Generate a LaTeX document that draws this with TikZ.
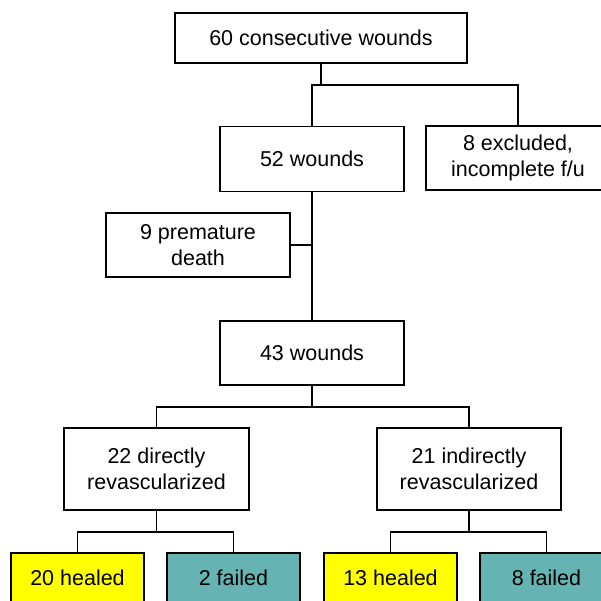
\documentclass[tikz,border=0pt]{standalone}
\usepackage{fontspec}
\setmainfont{Liberation Sans}
\definecolor{healedc}{HTML}{FFFF00}
\definecolor{failedc}{HTML}{66B3B3}
\begin{document}
\begin{tikzpicture}[x=1pt,y=-1pt,
  box/.style={draw, line width=1.1pt, rectangle, align=center, inner sep=0pt,
    font=\fontsize{21.5}{26}\selectfont},
  conn/.style={line width=1.1pt}]
\useasboundingbox (0,0) rectangle (601,601);
\node[box, minimum width=292, minimum height=50] (top) at (321,38) {60 consecutive wounds};
\node[box, minimum width=184, minimum height=65] (w52) at (312,159) {52 wounds};
\node[box, minimum width=184, minimum height=64] (excl) at (518,158) {8 excluded,\\incomplete f/u};
\node[box, minimum width=184, minimum height=64] (prem) at (198,245) {9 premature\\death};
\node[box, minimum width=184, minimum height=64] (w43) at (312,353) {43 wounds};
\node[box, minimum width=185, minimum height=82] (direct) at (156.5,469) {22 directly\\revascularized};
\node[box, minimum width=184, minimum height=82] (indirect) at (469,469) {21 indirectly\\revascularized};
\node[box, fill=healedc, minimum width=133, minimum height=50] (h20) at (77.5,578) {20 healed};
\node[box, fill=failedc, minimum width=133, minimum height=50] (f2) at (233.5,578) {2 failed};
\node[box, fill=healedc, minimum width=133, minimum height=50] (h13) at (390.5,578) {13 healed};
\node[box, fill=failedc, minimum width=133, minimum height=50] (f8) at (546.5,578) {8 failed};
\coordinate (j1) at (321,85);
\coordinate (j2) at (312,407);
\coordinate (j3) at (156.5,532);
\coordinate (j4) at (469,532);
\draw[conn] (top.south) -- (j1);
\draw[conn] (w52.north) |- (j1) -| (excl.north);
\draw[conn] (w52.south) -- (w43.north);
\draw[conn] (prem.east) -- (prem.east -| w52.south);
\draw[conn] (w43.south) -- (j2);
\draw[conn] (direct.north) |- (j2) -| (indirect.north);
\draw[conn] (direct.south) -- (j3);
\draw[conn] (h20.north) |- (j3) -| (f2.north);
\draw[conn] (indirect.south) -- (j4);
\draw[conn] (h13.north) |- (j4) -| (f8.north);
\end{tikzpicture}
\end{document}
